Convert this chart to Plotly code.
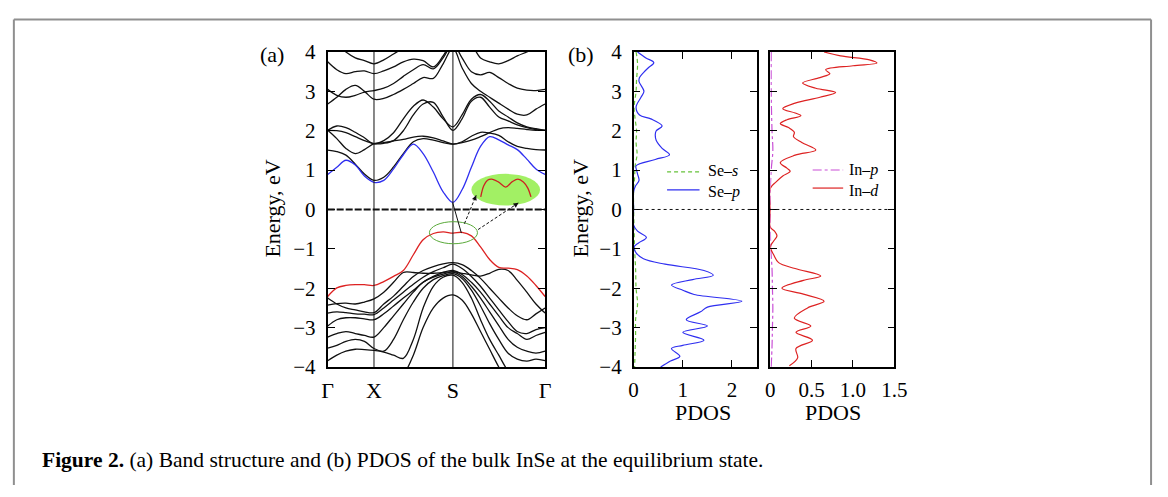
import plotly.graph_objects as go

W, H = 1168, 497

# ---------------- data: band structure (k along Γ-X-S-Γ, energies in eV) ----------------
K_PATH = [0, 0.042, 0.084, 0.127, 0.169, 0.213, 0.258, 0.303, 0.348, 0.394, 0.439, 0.486,
          0.531, 0.576, 0.618, 0.661, 0.703, 0.745, 0.787, 0.830, 0.872, 0.916, 0.958, 1.0]
K_TICK_POS = [0, 0.213, 0.576, 1.0]
K_TICK_TEXT = ["Γ", "X", "S", "Γ"]

CB1 = [0.89, 1.07, 1.25, 1.13, 0.85, 0.69, 0.74, 1.03, 1.39, 1.66, 1.42, 0.95, 0.45, 0.18,
       0.50, 1.07, 1.60, 1.85, 1.77, 1.64, 1.52, 1.28, 1.03, 0.89]
CB2 = [1.51, 1.47, 1.38, 1.15, 0.90, 0.74, 0.82, 1.08, 1.42, 1.72, 1.80, 1.76, 1.70, 1.66,
       1.72, 1.86, 1.96, 1.94, 1.88, 1.72, 1.60, 1.55, 1.52, 1.51]
CB3 = [2.01, 1.80, 1.55, 1.42, 1.52, 1.67, 1.70, 1.74, 1.78, 1.84, 1.86, 1.82, 1.74, 1.66,
       1.70, 1.76, 1.85, 1.95, 2.05, 2.08, 2.06, 2.03, 2.01, 2.01]
CB4 = [2.01, 2.12, 2.08, 1.96, 1.82, 1.67, 1.75, 1.95, 2.30, 2.62, 2.78, 2.60, 2.30, 2.10,
       2.40, 2.80, 2.92, 2.75, 2.50, 2.35, 2.20, 2.10, 2.05, 2.01]
CB5 = [2.01, 2.00, 1.95, 1.85, 1.75, 1.67, 1.68, 1.75, 2.00, 2.40, 2.68, 2.72, 2.35, 2.01,
       2.30, 2.75, 2.85, 2.60, 2.35, 2.25, 2.15, 2.08, 2.03, 2.01]
CB6 = [2.68, 2.85, 3.05, 3.15, 3.00, 2.80, 2.82, 2.92, 3.05, 3.20, 3.35, 3.33, 3.70, 4.10,
       3.60, 3.20, 3.00, 2.85, 2.70, 2.55, 2.42, 2.40, 2.55, 2.68]
CB7 = [3.05, 2.90, 2.85, 2.90, 2.98, 3.02, 3.08, 3.20, 3.38, 3.55, 3.68, 3.57, 3.85, 4.20,
       3.85, 3.50, 3.42, 3.48, 3.35, 3.20, 3.08, 3.03, 3.02, 3.05]
CB8 = [3.75, 3.55, 3.45, 3.50, 3.52, 3.45, 3.52, 3.62, 3.75, 3.82, 3.78, 3.62, 3.90, 4.30,
       4.40, 4.20, 3.85, 3.75, 3.70, 3.78, 3.90, 4.00, 4.10, 4.20]
CB9 = [4.40, 4.20, 4.00, 3.85, 3.78, 3.70, 3.80, 3.95, 4.10, 4.25, 4.35, 4.40, 4.45, 4.50,
       4.50, 4.45, 4.30, 4.20, 4.15, 4.20, 4.30, 4.40, 4.45, 4.50]

VB1 = [-2.21, -1.99, -1.93, -1.91, -1.91, -1.93, -1.83, -1.70, -1.55, -1.15, -0.77, -0.61,
       -0.57, -0.60, -0.58, -0.67, -0.95, -1.27, -1.47, -1.49, -1.53, -1.69, -1.93, -2.21]
VB2 = [-2.25, -2.40, -2.50, -2.55, -2.60, -2.62, -2.40, -2.20, -1.95, -1.70, -1.55, -1.45,
       -1.38, -1.35, -1.40, -1.55, -1.75, -2.00, -2.25, -2.50, -2.70, -2.80, -2.65, -2.50]
VB3 = [-2.43, -2.39, -2.38, -2.40, -2.35, -2.27, -2.10, -1.85, -1.60, -1.60, -1.62, -1.62,
       -1.60, -1.58, -1.62, -1.66, -1.69, -1.62, -1.52, -1.55, -1.80, -2.10, -2.40, -2.63]
VB4 = [-2.63, -2.60, -2.62, -2.65, -2.66, -2.67, -2.50, -2.30, -2.10, -1.90, -1.72, -1.58,
       -1.48, -1.39, -1.50, -1.70, -1.95, -2.25, -2.55, -2.85, -3.10, -3.15, -3.05, -3.00]
VB5 = [-2.96, -2.80, -2.75, -2.75, -2.78, -2.80, -2.65, -2.45, -2.25, -2.05, -1.85, -1.70,
       -1.60, -1.55, -1.65, -1.85, -2.10, -2.40, -2.70, -3.00, -3.15, -3.30, -3.20, -3.12]
VB6 = [-3.24, -3.15, -3.10, -3.15, -3.20, -3.24, -3.00, -2.70, -2.40, -2.10, -1.85, -1.72,
       -1.64, -1.59, -1.70, -1.95, -2.25, -2.60, -2.95, -3.30, -3.50, -3.60, -3.65, -3.60]
VB7 = [-3.52, -3.45, -3.35, -3.30, -3.35, -3.53, -3.60, -3.30, -2.80, -2.35, -2.00, -1.78,
       -1.68, -1.63, -1.75, -2.05, -2.45, -2.90, -3.30, -3.65, -3.80, -3.85, -3.80, -3.84]
VB8 = [-3.84, -3.70, -3.60, -3.55, -3.56, -3.58, -3.62, -3.70, -3.78, -3.30, -2.50, -1.95,
       -1.72, -1.67, -1.85, -2.25, -2.80, -3.30, -3.70, -4.10, -4.30, -4.40, -4.40, -4.40]
VB9 = [-4.50, -4.50, -4.50, -4.50, -4.50, -4.50, -4.50, -4.40, -4.20, -3.70, -3.00, -2.50,
       -2.25, -2.17, -2.30, -2.65, -3.10, -3.55, -4.00, -4.40, -4.50, -4.50, -4.50, -4.50]

BLACK_BANDS = [CB2, CB3, CB4, CB5, CB6, CB7, CB8, CB9,
               VB2, VB3, VB4, VB5, VB6, VB7, VB8, VB9]

# zoomed inset of the valence band top (drawn inside the green ellipse)
INSET_K = [0.704, 0.718, 0.735, 0.754, 0.785, 0.819, 0.848, 0.875, 0.900, 0.920, 0.935]
INSET_E = [0.32, 0.60, 0.74, 0.77, 0.70, 0.57, 0.70, 0.77, 0.70, 0.55, 0.32]

# ---------------- data: PDOS ----------------
SES_E = [4.0, 3.7, 3.3, 3.0, 2.6, 2.3, 2.0, 1.7, 1.4, 1.1, 0.8, 0.5, 0.0, -0.5, -1.0, -1.5,
         -2.0, -2.4, -2.8, -3.2, -3.6, -4.0]
SES_V = [0.05, 0.08, 0.06, 0.05, 0.01, 0.03, 0.06, 0.05, 0.07, 0.03, 0.02, 0.0, 0.0, 0.01,
         0.02, 0.04, 0.05, 0.08, 0.04, 0.04, 0.03, 0.02]

SEP_E = [4.0, 3.85, 3.73, 3.6, 3.49, 3.35, 3.25, 3.0, 2.85, 2.6, 2.4, 2.3, 2.12, 2.0, 1.9,
         1.75, 1.55, 1.39, 1.27, 1.11, 1.0, 0.9, 0.74, 0.6, 0.45, 0.0, -0.4, -0.55, -0.71,
         -0.85, -0.95, -1.1, -1.25, -1.39, -1.55, -1.67, -1.78, -1.92, -2.05, -2.16, -2.33,
         -2.48, -2.6, -2.8, -2.96, -3.12, -3.32, -3.45, -3.53, -3.73, -3.85, -4.0]
SEP_V = [0.08, 0.25, 0.41, 0.3, 0.21, 0.12, 0.11, 0.21, 0.15, 0.05, 0.12, 0.35, 0.58, 0.46,
         0.44, 0.46, 0.58, 0.73, 0.44, 0.05, 0.06, 0.08, 0.11, 0.04, 0.0, 0.0, 0.0, 0.08,
         0.26, 0.1, 0.01, 0.05, 0.2, 0.64, 1.43, 1.62, 1.2, 0.77, 1.0, 1.23, 2.2, 1.5, 1.36,
         1.07, 1.5, 1.0, 1.43, 1.0, 0.77, 0.94, 0.75, 0.55]

INP_E = [4.0, 3.0, 2.0, 1.5, 1.0, 0.5, 0.0, -0.5, -1.0, -1.5, -2.0, -2.5, -3.0, -3.5, -4.0]
INP_V = [0.01, 0.01, 0.02, 0.03, 0.01, 0.0, 0.0, 0.0, 0.005, 0.02, 0.025, 0.03, 0.025, 0.02, 0.01]

IND_E = [4.0, 3.9, 3.8, 3.72, 3.65, 3.55, 3.45, 3.35, 3.21, 3.08, 2.97, 2.85, 2.7, 2.56, 2.45,
         2.38, 2.28, 2.18, 2.08, 1.96, 1.85, 1.7, 1.51, 1.38, 1.19, 1.05, 0.97, 0.85, 0.7,
         0.54, 0.0, -0.45, -0.55, -0.67, -0.8, -0.95, -1.15, -1.35, -1.5, -1.69, -1.8, -2.0,
         -2.15, -2.33, -2.5, -2.76, -2.96, -3.12, -3.32, -3.53, -3.77, -3.97]
IND_V = [0.65, 0.85, 1.2, 1.29, 1.0, 0.67, 0.72, 0.6, 0.39, 0.55, 0.79, 0.6, 0.3, 0.15, 0.3,
         0.37, 0.2, 0.12, 0.22, 0.29, 0.28, 0.38, 0.55, 0.3, 0.12, 0.2, 0.24, 0.15, 0.07,
         0.0, 0.0, 0.0, 0.05, 0.08, 0.04, 0.0, 0.04, 0.1, 0.3, 0.61, 0.4, 0.14, 0.4, 0.65,
         0.45, 0.29, 0.49, 0.31, 0.51, 0.31, 0.33, 0.23]

SE_NAMES = ["Se–<i>s</i>", "Se–<i>p</i>"]
IN_NAMES = ["In–<i>p</i>", "In–<i>d</i>"]
CAPTION = "<b>Figure 2.</b> (a) Band structure and (b) PDOS of the bulk InSe at the equilibrium state."

# ---------------- styling ----------------
FONT = "Liberation Serif"
C_BLACK = "#111111"
C_BLUE = "#2f2ff0"
C_RED = "#dd2222"
C_GREEN = "#66c23a"
C_MAG = "#c94fd6"


def px(x):
    return x / W


def py(y):
    return 1 - y / H


fig = go.Figure()

for band in BLACK_BANDS:
    fig.add_trace(go.Scatter(x=K_PATH, y=band, mode="lines", xaxis="x", yaxis="y",
                             line=dict(color=C_BLACK, width=1.3, shape="spline"),
                             showlegend=False, hoverinfo="skip"))
fig.add_trace(go.Scatter(x=K_PATH, y=CB1, mode="lines", xaxis="x", yaxis="y",
                         line=dict(color=C_BLUE, width=1.3, shape="spline"),
                         showlegend=False, hoverinfo="skip"))
fig.add_trace(go.Scatter(x=K_PATH, y=VB1, mode="lines", xaxis="x", yaxis="y",
                         line=dict(color=C_RED, width=1.3, shape="spline"),
                         showlegend=False, hoverinfo="skip"))
fig.add_trace(go.Scatter(x=INSET_K, y=INSET_E, mode="lines", xaxis="x", yaxis="y",
                         line=dict(color="#cc2222", width=1.3, shape="spline"),
                         showlegend=False, hoverinfo="skip"))

# PDOS traces
fig.add_trace(go.Scatter(x=SES_V, y=SES_E, mode="lines", xaxis="x2", yaxis="y2",
                         line=dict(color=C_GREEN, width=1.2, dash="4px,3px", shape="spline"),
                         showlegend=False, hoverinfo="skip"))
fig.add_trace(go.Scatter(x=SEP_V, y=SEP_E, mode="lines", xaxis="x2", yaxis="y2",
                         line=dict(color=C_BLUE, width=1.2, shape="spline"),
                         showlegend=False, hoverinfo="skip"))
fig.add_trace(go.Scatter(x=INP_V, y=INP_E, mode="lines", xaxis="x3", yaxis="y3",
                         line=dict(color=C_MAG, width=1.2, dash="dashdot", shape="spline"),
                         showlegend=False, hoverinfo="skip"))
fig.add_trace(go.Scatter(x=IND_V, y=IND_E, mode="lines", xaxis="x3", yaxis="y3",
                         line=dict(color=C_RED, width=1.2, shape="spline"),
                         showlegend=False, hoverinfo="skip"))

shapes = []
# frame around the figure (open at the bottom)
for (x0, y0, x1, y1) in [(8, 497, 8, 8), (8, 8, 1164, 8), (1164, 8, 1164, 497)]:
    shapes.append(dict(type="line", xref="paper", yref="paper", x0=px(x0), y0=py(y0),
                       x1=px(x1), y1=py(y1), line=dict(color="#8f8f8f", width=2)))
# high-symmetry verticals
for kx in K_TICK_POS[1:3]:
    shapes.append(dict(type="line", xref="x", yref="y domain", x0=kx, x1=kx, y0=0, y1=1,
                       line=dict(color=C_BLACK, width=1)))
# Fermi level
shapes.append(dict(type="line", xref="x domain", yref="y", x0=0, x1=1, y0=0, y1=0,
                   line=dict(color=C_BLACK, width=2, dash="7px,2px")))
shapes.append(dict(type="line", xref="x2 domain", yref="y2", x0=0, x1=1, y0=0, y1=0,
                   line=dict(color=C_BLACK, width=1, dash="dot")))
shapes.append(dict(type="line", xref="x3 domain", yref="y3", x0=0, x1=1, y0=0, y1=0,
                   line=dict(color=C_BLACK, width=1, dash="dot")))
# green ellipses
shapes.append(dict(type="circle", xref="x", yref="y", x0=0.661, x1=0.977, y0=0.10, y1=0.905,
                   fillcolor="#a2f064", line=dict(width=0), layer="below"))
shapes.append(dict(type="circle", xref="x", yref="y", x0=0.468, x1=0.689, y0=-0.87, y1=-0.31,
                   line=dict(color="#5aaa3a", width=1)))
# pointer lines
shapes.append(dict(type="line", xref="x", yref="y", x0=0.575, y0=0.17, x1=0.615, y1=-0.60,
                   line=dict(color=C_BLACK, width=1)))
shapes.append(dict(type="line", xref="x", yref="y", x0=0.629, y0=-0.36, x1=0.683, y1=0.36,
                   line=dict(color=C_BLACK, width=1, dash="3px,2px")))
shapes.append(dict(type="line", xref="x", yref="y", x0=0.692, y0=-0.51, x1=0.878, y1=0.17,
                   line=dict(color=C_BLACK, width=1, dash="3px,2px")))
# manual legend samples
shapes.append(dict(type="line", xref="paper", yref="paper", x0=px(672), x1=px(705),
                   y0=py(168), y1=py(168), line=dict(color=C_GREEN, width=1.2, dash="4px,3px")))
shapes.append(dict(type="line", xref="paper", yref="paper", x0=px(672), x1=px(705),
                   y0=py(187), y1=py(187), line=dict(color=C_BLUE, width=1.2)))
shapes.append(dict(type="line", xref="paper", yref="paper", x0=px(820), x1=px(851),
                   y0=py(166), y1=py(166), line=dict(color=C_MAG, width=1.2, dash="dashdot")))
shapes.append(dict(type="line", xref="paper", yref="paper", x0=px(820), x1=px(851),
                   y0=py(185), y1=py(185), line=dict(color=C_RED, width=1.2)))

ann = []


def text(t, x, y, size, xanchor="center", angle=0):
    ann.append(dict(text=t, x=px(x), y=py(y), xref="paper", yref="paper", showarrow=False,
                    xanchor=xanchor, yanchor="middle", textangle=angle, align="left",
                    font=dict(family=FONT, size=size, color="black")))


text("(a)", 270, 45, 22)
text("(b)", 585, 45, 22)
text("Energy, eV", 270, 207, 22, angle=-90)
text("Energy, eV", 583, 207, 22, angle=-90)
text("PDOS", 709, 421, 22)
text("PDOS", 841, 421, 22)
text("<br>".join(SE_NAMES), 712, 178, 16, xanchor="left")
text("<br>".join(IN_NAMES), 855, 176, 16, xanchor="left")
text(CAPTION, 35, 471, 21.5, xanchor="left")

# arrow heads of the dashed pointers
for (hx, hy, tx, ty) in [(0.683, 0.36, 0.675, 0.25), (0.878, 0.17, 0.855, 0.085)]:
    ann.append(dict(x=hx, y=hy, ax=tx, ay=ty, xref="x", yref="y", axref="x", ayref="y",
                    text="", showarrow=True, arrowhead=2, arrowsize=1, arrowwidth=1,
                    arrowcolor=C_BLACK))

tickfont = dict(family=FONT, size=21, color="black")
common_y = dict(range=[-4, 4], dtick=1, tick0=0, showgrid=False, zeroline=False,
                showline=True, linecolor="black", ticks="inside", ticklen=7, tickwidth=1.3,
                tickcolor="black", mirror="ticks", tickfont=tickfont,
                domain=[py(373), py(42)])
common_x = dict(showgrid=False, zeroline=False, showline=True, linecolor="black",
                ticks="inside", ticklen=7, tickwidth=1.3, tickcolor="black", mirror="ticks",
                tickfont=tickfont, ticklabelstandoff=3)

fig.update_layout(
    width=W, height=H, margin=dict(l=0, r=0, t=0, b=0),
    paper_bgcolor="white", plot_bgcolor="white",
    font=dict(family=FONT, color="black"),
    showlegend=False,
    xaxis=dict(domain=[px(327), px(548)], range=[0, 1], anchor="y", showgrid=False,
               zeroline=False, showline=True, linecolor="black", linewidth=2, mirror=True,
               ticks="", tickvals=K_TICK_POS, ticktext=K_TICK_TEXT,
               tickfont=dict(family=FONT, size=22, color="black"), ticklabelstandoff=3),
    yaxis=dict(anchor="x", linewidth=2, ticklabelstandoff=6, **common_y),
    xaxis2=dict(domain=[px(638), px(763)], range=[0, 2.5], anchor="y2", linewidth=1.5,
                tickvals=[0, 1, 2], ticktext=["0", "1", "2"], **common_x),
    yaxis2=dict(anchor="x2", linewidth=1.5, ticklabelstandoff=6, **common_y),
    xaxis3=dict(domain=[px(777), px(903)], range=[0, 1.5], anchor="y3", linewidth=1.5,
                tickvals=[0, 0.5, 1.0, 1.5], ticktext=["0", "0.5", "1.0", "1.5"], **common_x),
    yaxis3=dict(anchor="x3", linewidth=1.5, showticklabels=False, **common_y),
    shapes=shapes,
    annotations=ann,
)

fig.write_html("out.html")
